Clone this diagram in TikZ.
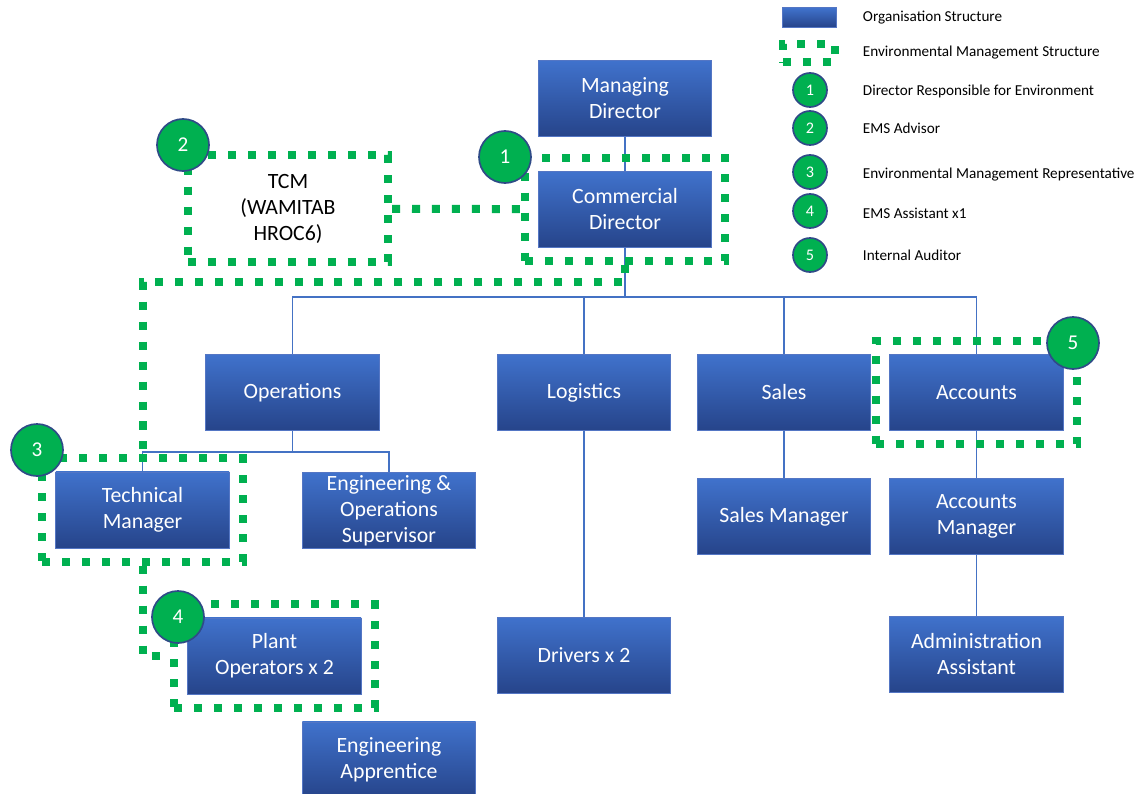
\documentclass[tikz,border=0pt]{standalone}
\usepackage{fontspec}
\setmainfont{Carlito}
\usetikzlibrary{positioning, fit, calc}
\definecolor{boxtop}{RGB}{64,114,204}
\definecolor{boxbottom}{RGB}{38,68,138}
\definecolor{boxline}{RGB}{84,118,196}
\definecolor{linkblue}{RGB}{68,114,196}
\definecolor{emsgreen}{RGB}{0,176,80}
\definecolor{badgeline}{RGB}{47,75,135}
\tikzset{
    orgbox/.style={draw=boxline, line width=0.6pt, top color=boxtop, bottom color=boxbottom, align=center, text=white, minimum width=4.33cm, minimum height=1.9cm, inner xsep=2pt, inner ysep=0pt, font=\fontsize{15.5}{18.5}\selectfont},
    link/.style={draw=linkblue, line width=1.1pt},
    emsline/.style={draw=emsgreen, line width=0.2cm, dash pattern=on 5.7pt off 8.5pt},
    emsbox/.style={emsline, inner sep=0.33cm},
    badge/.style={circle, draw=badgeline, line width=1.2pt, fill=emsgreen, text=white, minimum size=1.3cm, font=\fontsize{15}{18}\selectfont},
    legbadge/.style={badge, minimum size=0.85cm, font=\fontsize{11.5}{13}\selectfont},
    legtext/.style={anchor=west, font=\fontsize{10.8}{13}\selectfont}
}
\begin{document}
\begin{tikzpicture}[x=0.025cm, y=-0.025cm]
    \useasboundingbox (0,0) rectangle (1142,794);
    \fill[white] (0,0) rectangle (1142,794);

    % organisation boxes
    \node [orgbox] (md) at (625,98.5) {Managing\\Director};
    \node [orgbox, below=0.85cm of md] (cd) {Commercial\\Director};
    \node [orgbox] (ops) at (292.5,392.5) {Operations};
    \node [orgbox] (log) at (584,392.5) {Logistics};
    \node [orgbox] (sales) at (784,392.5) {Sales};
    \node [orgbox] (acc) at (976.5,392.5) {Accounts};
    \node [orgbox] (tm) at (142.5,510) {Technical\\Manager};
    \node [orgbox] (eos) at (389,510.5) {Engineering \&\\Operations\\Supervisor};
    \node [orgbox, below=1.175cm of sales] (sm) {Sales Manager};
    \node [orgbox, below=1.175cm of acc] (am) {Accounts\\Manager};
    \node [orgbox, below=1.525cm of am] (adm) {Administration\\Assistant};
    \node [orgbox, below=4.65cm of log] (drv) {Drivers x 2};
    \node [orgbox] (po) at (274.5,656) {Plant\\Operators x 2};
    \node [orgbox] (app) at (389,760) {Engineering\\Apprentice};

    \coordinate (hub) at (625,297);
    \coordinate (opshub) at (292.5,452);
    \draw [link] (md) -- (cd);
    \draw [link] (cd) -- (hub);
    \draw [link] (hub) -| (ops);
    \draw [link] (hub) -| (log);
    \draw [link] (hub) -| (sales);
    \draw [link] (hub) -| (acc);
    \draw [link] (ops) -- (opshub);
    \draw [link] (opshub) -| (tm);
    \draw [link] (opshub) -| (eos);
    \draw [link] (log) -- (drv);
    \draw [link] (sales) -- (sm);
    \draw [link] (acc) -- (am);
    \draw [link] (am) -- (adm);

    % environmental management structure
    \node [emsline, minimum width=5cm, minimum height=2.68cm, align=center, font=\fontsize{15.5}{18.5}\selectfont] (tcm) at (288,208.5) {TCM\\(WAMITAB\\HROC6)};
    \node [emsbox, fit=(cd)] (cdems) {};
    \node [emsbox, fit=(tm)] (tmems) {};
    \node [emsbox, fit=(po)] (poems) {};
    \node [emsbox, fit=(acc)] (accems) {};
    \coordinate (bend) at (142.5,282);
    \draw [emsline] (tcm) -- (cdems);
    \draw [emsline] (cdems.south) |- (bend) -- (tmems.north);
    \draw [emsline] (tmems.south) |- (poems.west);

    \node [badge] (b1) at (505,157) {1};
    \node [badge] (b2) at (183,145) {2};
    \node [badge] (b3) at (37,450) {3};
    \node [badge] (b4) at (178,617) {4};
    \node [badge] (b5) at (1073,343) {5};

    % legend
    \node [orgbox, minimum width=1.33cm, minimum height=0.48cm] (legorg) at (809.5,17.5) {};
    \node [emsline, minimum width=1.3cm, minimum height=0.45cm] (legems) at (809,53) {};
    \node [legbadge] (leg1) at (810,90) {1};
    \node [legbadge] (leg2) at (810,128) {2};
    \node [legbadge] (leg3) at (810,172) {3};
    \node [legbadge] (leg4) at (810,211) {4};
    \node [legbadge] (leg5) at (810,255) {5};
    \node [legtext] (t0) at (858,18) {Organisation Structure};
    \node [legtext] (t1) at (858,53) {Environmental Management Structure};
    \node [legtext] (t2) at (858,91) {Director Responsible for Environment};
    \node [legtext] (t3) at (858,128) {EMS Advisor};
    \node [legtext] (t4) at (858,175) {Environmental Management Representative};
    \node [legtext] (t5) at (858,213) {EMS Assistant x1};
    \node [legtext] (t6) at (858,255) {Internal Auditor};
\end{tikzpicture}
\end{document}
